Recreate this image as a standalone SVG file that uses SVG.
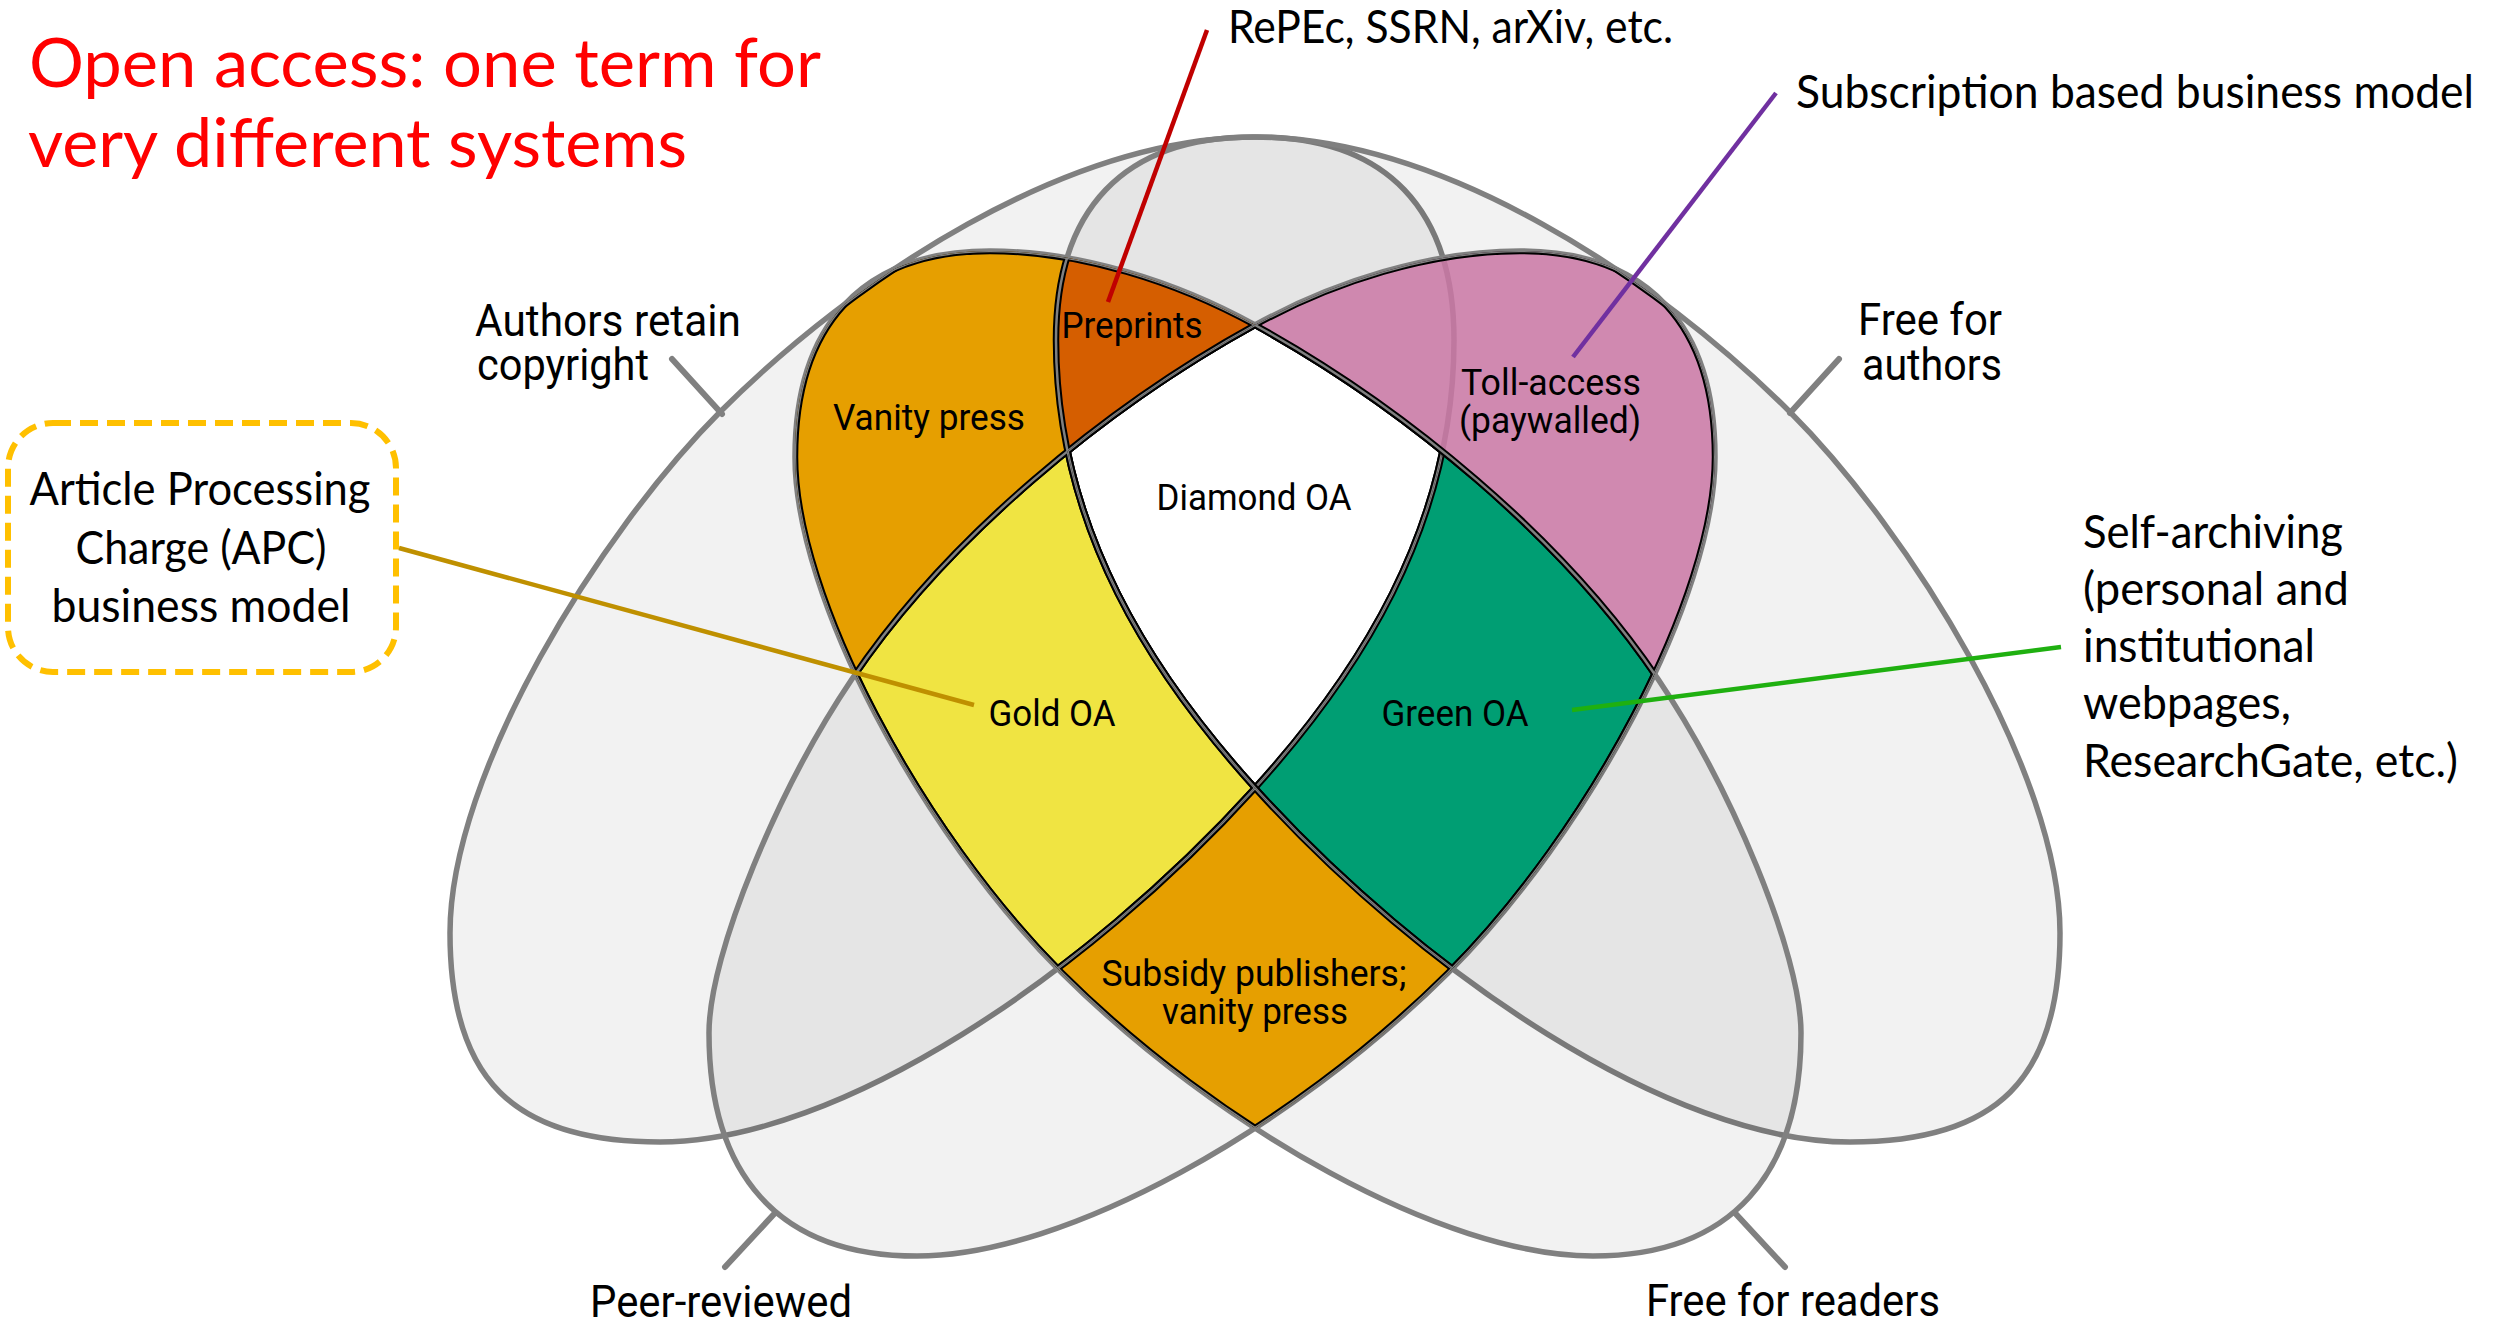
<svg xmlns="http://www.w3.org/2000/svg" width="2501" height="1326" viewBox="0 0 2501 1326">
<style>
  .set{fill:#000;fill-opacity:.051;stroke:#808080;stroke-width:5.5}
  .bk{fill:none;stroke:#000;stroke-width:6.5}
  .gy{fill:none;stroke:#808080;stroke-width:2.5}
  .tick{fill:none;stroke:#808080;stroke-width:6;stroke-linecap:round}
  .lead{fill:none;stroke-width:4.5;stroke-linecap:butt}
  .sans{font-family:Roboto,"Liberation Sans",Arial,sans-serif;fill:#000}
  .hum{font-family:Lato,"Open Sans","Liberation Sans",sans-serif;fill:#000}
  .in{font-size:37px}
  .out{font-size:44px}
  .note{font-size:46px}
  .title{font-size:67px;fill:#FF0000}
  .mid{text-anchor:middle}
</style>
<defs>
  <!-- big egg: tip at the top centre, rounded end lower left -->
  <path id="shapeL" d="M1257,137 C1387,137 1454,210 1454,340 C1454,530 1355.5,677 1255,788 C1087.5,973 840,1142 660,1142 C513,1142 450,1079 450,933 C450,773 600,532 720,412 C854.3,277.7 1067,137 1257,137 Z"/>
  <!-- narrow egg: lobe upper right, rounded end lower left -->
  <path id="shapeN1" d="M1255,325 C1333.8,281.6 1430,251 1520,251 C1650,251 1715,327 1715,457 C1715,597 1589,832 1448,973 C1292,1128 1067,1256 917,1256 C777,1256 709,1173 709,1033 C709,953 779.3,786.8 852,679 C947,538 1106,407 1255,325 Z"/>
  <clipPath id="clipL"><use href="#shapeL"/></clipPath>
  <clipPath id="clipR"><use href="#shapeL" transform="matrix(-1 0 0 1 2510 0)"/></clipPath>
  <clipPath id="clipN1"><use href="#shapeN1"/></clipPath>
  <clipPath id="clipN2"><use href="#shapeN1" transform="matrix(-1 0 0 1 2510 0)"/></clipPath>
  <g id="edges4">
    <use href="#shapeL"/>
    <use href="#shapeL" transform="matrix(-1 0 0 1 2510 0)"/>
    <use href="#shapeN1"/>
    <use href="#shapeN1" transform="matrix(-1 0 0 1 2510 0)"/>
  </g>
  <g id="edges3">
    <use href="#shapeL" transform="matrix(-1 0 0 1 2510 0)"/>
    <use href="#shapeN1"/>
    <use href="#shapeN1" transform="matrix(-1 0 0 1 2510 0)"/>
  </g>
  <rect id="page" x="0" y="0" width="2501" height="1326"/>
</defs>

<rect x="0" y="0" width="2501" height="1326" fill="#fff"/>

<!-- title -->
<g id="title">
  <text class="hum title" x="29" y="87" textLength="792" lengthAdjust="spacingAndGlyphs">Open access: one term for</text>
  <text class="hum title" x="28" y="167" textLength="659" lengthAdjust="spacingAndGlyphs">very different systems</text>
</g>

<!-- the four sets -->
<g id="set-authors-retain-copyright">
  <use href="#shapeL" class="set"/>
  <text class="sans out" x="475" y="336" textLength="266" lengthAdjust="spacingAndGlyphs">Authors retain</text>
  <text class="sans out" x="477" y="380" textLength="172" lengthAdjust="spacingAndGlyphs">copyright</text>
</g>
<g id="set-free-for-authors">
  <use href="#shapeL" class="set" transform="matrix(-1 0 0 1 2510 0)"/>
  <text class="sans out" x="1858" y="335" textLength="144" lengthAdjust="spacingAndGlyphs">Free for</text>
  <text class="sans out" x="1862" y="380" textLength="140" lengthAdjust="spacingAndGlyphs">authors</text>
</g>
<g id="set-peer-reviewed">
  <use href="#shapeN1" class="set"/>
  <text class="sans out" x="590" y="1317" textLength="262" lengthAdjust="spacingAndGlyphs">Peer-reviewed</text>
</g>
<g id="set-free-for-readers">
  <use href="#shapeN1" class="set" transform="matrix(-1 0 0 1 2510 0)"/>
  <text class="sans out" x="1646" y="1316" textLength="294" lengthAdjust="spacingAndGlyphs">Free for readers</text>
</g>

<!-- coloured intersections -->
<g id="region-toll-access">
  <g clip-path="url(#clipR)"><g clip-path="url(#clipN1)">
    <use href="#page" fill="#CC79A7" fill-opacity="0.85"/>
  </g></g>
</g>
<g id="region-vanity-press">
  <g clip-path="url(#clipL)"><g clip-path="url(#clipN2)">
    <use href="#page" fill="#E69F00"/>
  </g></g>
</g>
<g id="region-preprints">
  <g clip-path="url(#clipL)"><g clip-path="url(#clipN2)"><g clip-path="url(#clipR)">
    <use href="#page" fill="#D55E00"/>
  </g></g></g>
</g>
<g id="region-subsidy-publishers">
  <g clip-path="url(#clipN1)"><g clip-path="url(#clipN2)">
    <use href="#page" fill="#E69F00"/>
  </g></g>
</g>
<g id="region-gold-oa">
  <g clip-path="url(#clipN1)"><g clip-path="url(#clipN2)"><g clip-path="url(#clipL)">
    <use href="#page" fill="#F0E442"/>
  </g></g></g>
</g>
<g id="region-green-oa">
  <g clip-path="url(#clipN1)"><g clip-path="url(#clipN2)"><g clip-path="url(#clipR)">
    <use href="#page" fill="#009E73"/>
  </g></g></g>
</g>
<g id="region-diamond-oa">
  <g clip-path="url(#clipN1)"><g clip-path="url(#clipN2)"><g clip-path="url(#clipL)"><g clip-path="url(#clipR)">
    <use href="#page" fill="#FFFFFF"/>
  </g></g></g></g>
</g>

<!-- black-edged borders between the coloured areas -->
<g id="borders">
  <g clip-path="url(#clipN1)"><g clip-path="url(#clipN2)">
    <use href="#edges4" class="bk"/><use href="#edges4" class="gy"/>
  </g></g>
  <g clip-path="url(#clipL)"><g clip-path="url(#clipN2)">
    <use href="#edges4" class="bk"/><use href="#edges4" class="gy"/>
  </g></g>
  <g clip-path="url(#clipR)"><g clip-path="url(#clipN1)">
    <use href="#edges3" class="bk"/><use href="#edges3" class="gy"/>
  </g></g>
</g>

<!-- labels of the coloured areas -->
<g id="region-labels">
  <text class="sans in mid" x="929" y="430" textLength="192" lengthAdjust="spacingAndGlyphs">Vanity press</text>
  <text class="sans in mid" x="1132" y="338" textLength="141" lengthAdjust="spacingAndGlyphs">Preprints</text>
  <text class="sans in mid" x="1254" y="510" textLength="195" lengthAdjust="spacingAndGlyphs">Diamond OA</text>
  <text class="sans in mid" x="1551" y="395" textLength="180" lengthAdjust="spacingAndGlyphs">Toll-access</text>
  <text class="sans in mid" x="1550" y="433" textLength="182" lengthAdjust="spacingAndGlyphs">(paywalled)</text>
  <text class="sans in mid" x="1052" y="726" textLength="127" lengthAdjust="spacingAndGlyphs">Gold OA</text>
  <text class="sans in mid" x="1455" y="726" textLength="147" lengthAdjust="spacingAndGlyphs">Green OA</text>
  <text class="sans in mid" x="1254" y="986" textLength="305" lengthAdjust="spacingAndGlyphs">Subsidy publishers;</text>
  <text class="sans in mid" x="1255" y="1024" textLength="186" lengthAdjust="spacingAndGlyphs">vanity press</text>
</g>

<!-- side notes -->
<g id="note-apc">
  <rect x="8" y="423" width="388" height="249" rx="45" ry="45" fill="none" stroke="#FFC000" stroke-width="6" stroke-dasharray="18 9"/>
  <text class="hum note mid" x="200" y="505" textLength="341" lengthAdjust="spacingAndGlyphs">Article Processing</text>
  <text class="hum note mid" x="201" y="564" textLength="251" lengthAdjust="spacingAndGlyphs">Charge (APC)</text>
  <text class="hum note mid" x="201" y="622" textLength="299" lengthAdjust="spacingAndGlyphs">business model</text>
</g>
<g id="note-repositories">
  <text class="hum note" x="1228" y="43" textLength="445" lengthAdjust="spacingAndGlyphs">RePEc, SSRN, arXiv, etc.</text>
</g>
<g id="note-subscription">
  <text class="hum note" x="1796" y="108" textLength="678" lengthAdjust="spacingAndGlyphs">Subscription based business model</text>
</g>
<g id="note-self-archiving">
  <text class="hum note" x="2083" y="548" textLength="260" lengthAdjust="spacingAndGlyphs">Self-archiving</text>
  <text class="hum note" x="2083" y="605" textLength="266" lengthAdjust="spacingAndGlyphs">(personal and</text>
  <text class="hum note" x="2083" y="662" textLength="232" lengthAdjust="spacingAndGlyphs">institutional</text>
  <text class="hum note" x="2083" y="719" textLength="208" lengthAdjust="spacingAndGlyphs">webpages,</text>
  <text class="hum note" x="2083" y="777" textLength="375" lengthAdjust="spacingAndGlyphs">ResearchGate, etc.)</text>
</g>

<!-- connectors: set ticks and note leaders -->
<g id="connectors">
  <line class="tick" x1="672" y1="359" x2="722" y2="414"/>
  <line class="tick" x1="1839" y1="359" x2="1790" y2="413"/>
  <line class="tick" x1="725" y1="1267" x2="775" y2="1213"/>
  <line class="tick" x1="1785" y1="1267" x2="1735" y2="1213"/>
  <line class="lead" stroke="#C00000" x1="1207" y1="30" x2="1108" y2="302"/>
  <line class="lead" stroke="#7030A0" x1="1776" y1="93" x2="1573" y2="357"/>
  <line class="lead" stroke="#BF9000" stroke-width="5" x1="399" y1="548" x2="974" y2="705"/>
  <line class="lead" stroke="#1FB010" stroke-width="5" x1="1572" y1="710" x2="2061" y2="647"/>
</g>
</svg>
